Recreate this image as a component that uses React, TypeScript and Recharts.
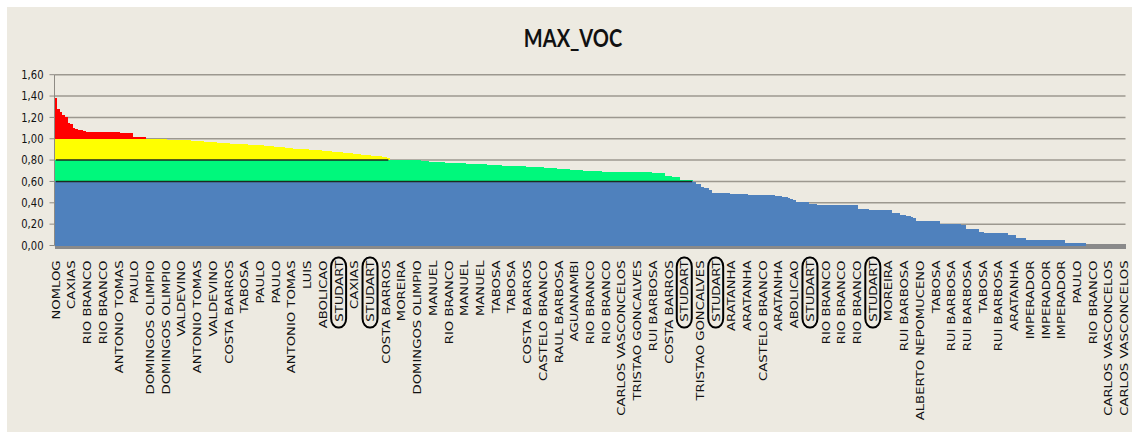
import { ComposedChart, Bar, Line, XAxis, YAxis, CartesianGrid, ReferenceArea } from "recharts";

// one label every LABEL_STEP stops, as printed under the axis
const LABEL_STEP = 6;

const stopLabels = [
  "NOMLOG", "CAXIAS", "RIO BRANCO", "RIO BRANCO", "ANTONIO TOMAS", "PAULO",
  "DOMINGOS OLIMPIO", "DOMINGOS OLIMPIO", "VALDEVINO", "ANTONIO TOMAS", "VALDEVINO",
  "COSTA BARROS", "TABOSA", "PAULO", "PAULO", "ANTONIO TOMAS", "LUIS", "ABOLICAO",
  "STUDART", "CAXIAS", "STUDART", "COSTA BARROS", "MOREIRA", "DOMINGOS OLIMPIO",
  "MANUEL", "RIO BRANCO", "MANUEL", "MANUEL", "TABOSA", "TABOSA", "COSTA BARROS",
  "CASTELO BRANCO", "RAUL BARBOSA", "AGUANAMBI", "RIO BRANCO", "RIO BRANCO",
  "CARLOS VASCONCELOS", "TRISTAO GONCALVES", "RUI BARBOSA", "COSTA BARROS", "STUDART",
  "TRISTAO GONCALVES", "STUDART", "ARATANHA", "ARATANHA", "CASTELO BRANCO", "ARATANHA",
  "ABOLICAO", "STUDART", "RIO BRANCO", "RIO BRANCO", "RIO BRANCO", "STUDART", "MOREIRA",
  "RUI BARBOSA", "ALBERTO NEPOMUCENO", "TABOSA", "RUI BARBOSA", "RUI BARBOSA", "TABOSA",
  "RUI BARBOSA", "ARATANHA", "IMPERADOR", "IMPERADOR", "IMPERADOR", "PAULO", "RIO BRANCO",
  "CARLOS VASCONCELOS", "CARLOS VASCONCELOS",
];

// stops to highlight under the axis
const highlighted = "STUDART";

const yTicks = [0, 0.2, 0.4, 0.6, 0.8, 1.0, 1.2, 1.4, 1.6];

// MAX_VOC per stop, sorted high to low, grouped by class
const above100 = [
  1.38, 1.28, 1.25, 1.22, 1.20, 1.15, 1.14, 1.10, 1.09, 1.08, 1.08, 1.07,
  1.065, 1.065, 1.065, 1.065, 1.065, 1.065, 1.065, 1.065, 1.065, 1.065, 1.065, 1.065, 1.065,
  1.05, 1.05, 1.05, 1.05, 1.05,
  1.02, 1.02, 1.02, 1.02, 1.02,
];

const from80to100 = [
  0.998, 0.997, 0.996, 0.995, 0.995,
  0.994, 0.993, 0.993, 0.992, 0.991,
  0.990, 0.989, 0.988, 0.987, 0.986,
  0.985, 0.984, 0.982, 0.981, 0.980,
  0.978, 0.976, 0.974, 0.972, 0.970,
  0.968, 0.966, 0.964, 0.962, 0.960,
  0.958, 0.957, 0.955, 0.953, 0.951,
  0.950, 0.949, 0.948, 0.947, 0.946,
  0.945, 0.943, 0.941, 0.939, 0.937,
  0.935, 0.933, 0.931, 0.929, 0.927,
  0.925, 0.922, 0.919, 0.916, 0.913,
  0.910, 0.908, 0.907, 0.905, 0.903,
  0.902, 0.900, 0.898, 0.896, 0.895,
  0.893, 0.891, 0.889, 0.886, 0.884,
  0.882, 0.880, 0.877, 0.875, 0.872,
  0.870, 0.867, 0.865, 0.862, 0.860,
  0.857, 0.855, 0.852, 0.850, 0.847,
  0.845, 0.842, 0.840, 0.837, 0.835,
  0.832, 0.828, 0.822,
];

const from60to80 = [
  0.800, 0.800, 0.800, 0.800, 0.800, 0.800, 0.800, 0.800, 0.800, 0.800, 0.800, 0.800,
  0.792, 0.790, 0.788, 0.786, 0.784,
  0.782, 0.781, 0.780, 0.778, 0.777,
  0.776, 0.775, 0.774, 0.772, 0.771,
  0.770, 0.769, 0.768, 0.767, 0.766,
  0.765, 0.763, 0.762, 0.760, 0.759,
  0.757, 0.756, 0.754, 0.753, 0.751,
  0.750, 0.749, 0.748, 0.747, 0.746,
  0.745, 0.744, 0.743, 0.742, 0.741,
  0.740, 0.739, 0.737, 0.736, 0.734,
  0.733, 0.731, 0.730, 0.728, 0.727,
  0.725, 0.723, 0.721, 0.719, 0.717,
  0.715, 0.713, 0.711, 0.709, 0.707,
  0.705, 0.703, 0.701, 0.699, 0.697,
  0.695, 0.695, 0.694, 0.694, 0.693,
  0.693, 0.692, 0.692, 0.691, 0.691,
  0.690, 0.690, 0.689, 0.689, 0.688,
  0.688, 0.688, 0.687, 0.687, 0.686,
  0.686, 0.685, 0.684, 0.681, 0.680,
  0.680, 0.679, 0.678, 0.650, 0.648,
  0.647, 0.646, 0.646, 0.645, 0.618,
  0.616, 0.615, 0.613, 0.610,
];

const below60 = [
  0.595, 0.580, 0.575, 0.545, 0.540, 0.535, 0.516,
  0.494, 0.494, 0.494, 0.494, 0.494, 0.494, 0.494,
  0.480, 0.480, 0.479, 0.479, 0.478, 0.478, 0.478, 0.477, 0.477, 0.476, 0.476, 0.475,
  0.472, 0.471, 0.470, 0.470, 0.469, 0.468, 0.468,
  0.460, 0.455, 0.450, 0.445, 0.440, 0.430,
  0.406, 0.406, 0.406, 0.406, 0.406,
  0.385, 0.385, 0.385, 0.384, 0.384, 0.384, 0.383, 0.383, 0.383, 0.383,
  0.382, 0.382, 0.382, 0.381, 0.381, 0.381, 0.380, 0.380, 0.380,
  0.344, 0.343, 0.342, 0.340,
  0.337, 0.337, 0.336, 0.336, 0.336, 0.335, 0.335, 0.334, 0.334,
  0.305, 0.303, 0.300,
  0.290, 0.282, 0.276, 0.272, 0.266, 0.260,
  0.230, 0.230, 0.229, 0.229, 0.228, 0.228, 0.227, 0.227, 0.226,
  0.202, 0.202, 0.201, 0.201, 0.200, 0.200, 0.199, 0.199,
  0.190, 0.190,
  0.158, 0.158, 0.157, 0.157, 0.156,
  0.122, 0.122, 0.121, 0.121, 0.120, 0.120, 0.120, 0.119, 0.119, 0.118, 0.118,
  0.100, 0.100, 0.099,
  0.071, 0.070, 0.070, 0.069,
  0.055, 0.055, 0.055, 0.054, 0.054, 0.054, 0.054, 0.053, 0.053, 0.053, 0.053, 0.052, 0.052, 0.052, 0.051,
  0.021, 0.021, 0.020, 0.020, 0.020, 0.020, 0.019, 0.019,
  0, 0, 0, 0, 0, 0, 0, 0, 0, 0, 0, 0, 0, 0, 0,
];

const maxVoc = [...above100, ...from80to100, ...from60to80, ...below60];

// split each value into the coloured bands of the stack
const rows = maxVoc.map((v, i) => ({
  i,
  blue: Math.min(v, 0.6),
  green: Math.max(0, Math.min(v, 0.8) - 0.6),
  yellow: Math.max(0, Math.min(v, 1) - 0.8),
  red: Math.max(0, v - 1),
  edge60: v > 0.6 ? 0.6 : null,
  edge80: v > 0.8 ? 0.8 : null,
}));

const W = 1132;
const H = 432;
const M = { top: 74.7, right: 6.5, bottom: 6.5, left: 0 };
const Y_AXIS_W = 54.5;
const X_AXIS_H = 180;
const plotW = W - M.left - M.right - Y_AXIS_W;
// just under the band width so recharts keeps the bars touching
const barW = plotW / rows.length - 0.0001;

const tickFont = "'DejaVu Sans', Verdana, sans-serif";

function StopTick(props: any) {
  const { x, y, payload } = props;
  const name = stopLabels[payload.value / LABEL_STEP];
  if (!name) return null;
  return (
    <g transform={`translate(${x},${y})`}>
      {name === highlighted && (
        <rect x={-7.5} y={-3} width={15} height={70} rx={7} ry={9} fill="none" stroke="#000" strokeWidth={2} />
      )}
      <text
        transform="rotate(-90) scale(1.2,1)"
        textAnchor="end"
        dy="0.36em"
        fontSize={11}
        fontFamily={tickFont}
        fill="#111"
      >
        {name}
      </text>
    </g>
  );
}

function ValueTick(props: any) {
  const { x, y, payload } = props;
  return (
    <g transform={`translate(${x},${y}) scale(1,1.2)`}>
      <text textAnchor="end" dy="0.36em" fontSize={10} fontFamily={tickFont} fill="#111">
        {payload.value.toFixed(2).replace(".", ",")}
      </text>
    </g>
  );
}

export default function App() {
  return (
    <div style={{ position: "relative", width: W, height: H, background: "#fff", overflow: "hidden" }}>
      <style>{`body{margin:0} .recharts-rectangle{shape-rendering:crispEdges}`}</style>
      <div style={{ position: "absolute", left: 7, top: 7, right: 0, bottom: 0, background: "#edeae1" }} />
      <svg width={W} height={60} style={{ position: "absolute", left: 0, top: 0 }}>
        <g transform="translate(573,46.5) scale(1,1.25)">
          <text textAnchor="middle" fontFamily="Lato, 'Open Sans', sans-serif" fontWeight={700} fontSize={20} fill="#111">
            MAX_VOC
          </text>
        </g>
      </svg>
      <div style={{ position: "absolute", left: 0, top: 0 }}>
        <ComposedChart width={W} height={H} data={rows} margin={M} barCategoryGap={0} barGap={0}>
          <CartesianGrid vertical={false} stroke="#9c988f" strokeWidth={1.5} />
          <XAxis
            dataKey="i"
            interval={LABEL_STEP - 1}
            height={X_AXIS_H}
            tickLine={false}
            axisLine={false}
            tickSize={0}
            tickMargin={15}
            tick={<StopTick />}
          />
          <YAxis
            type="number"
            domain={[0, 1.6]}
            ticks={yTicks}
            interval={0}
            width={Y_AXIS_W}
            tickSize={5}
            tickMargin={6}
            axisLine={{ stroke: "#8e8b84" }}
            tickLine={{ stroke: "#8e8b84" }}
            tick={<ValueTick />}
          />
          <Bar dataKey="blue" stackId="v" fill="#4f81bd" barSize={barW} isAnimationActive={false} />
          <Bar dataKey="green" stackId="v" fill="#00f87c" barSize={barW} isAnimationActive={false} />
          <Bar dataKey="yellow" stackId="v" fill="#ffff00" barSize={barW} isAnimationActive={false} />
          <Bar dataKey="red" stackId="v" fill="#ff0000" barSize={barW} isAnimationActive={false} />
          <Line dataKey="edge60" stroke="#1b2a22" strokeWidth={1.5} dot={false} activeDot={false} isAnimationActive={false} />
          <Line dataKey="edge80" stroke="#1b2a22" strokeWidth={1.5} dot={false} activeDot={false} isAnimationActive={false} />
          {/* grey floor under the bars */}
          <ReferenceArea y1={-0.035} y2={0.01} fill="#8a8a8a" fillOpacity={1} stroke="none" ifOverflow="visible" />
        </ComposedChart>
      </div>
    </div>
  );
}
